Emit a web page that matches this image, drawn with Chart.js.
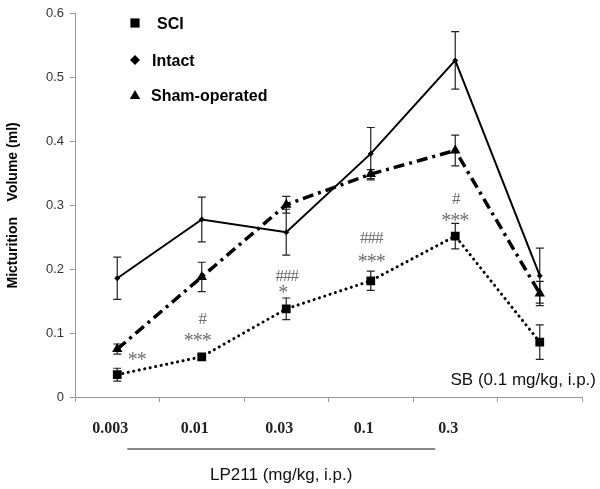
<!DOCTYPE html>
<html><head><meta charset="utf-8">
<script src="https://cdn.jsdelivr.net/npm/chart.js@4"></script>
<style>html,body{margin:0;padding:0;background:#fff}#wrap{width:600px;height:489px;position:relative}</style>
</head><body><div id="wrap"><canvas id="c"></canvas></div>
<script>
const categories = ["0.003","0.01","0.03","0.1","0.3","SB"];
const tickLabels = ["0.003","0.01","0.03","0.1","0.3",""];
const sciMean = [0.035,0.063,0.138,0.182,0.252,0.086];
const sciErr = [0.010,0.005,0.017,0.015,0.020,0.027];
const intactMean = [0.186,0.278,0.258,0.381,0.527,0.190];
const intactErr = [0.033,0.035,0.036,0.041,0.045,0.043];
const shamMean = [0.075,0.188,0.301,0.349,0.386,0.162];
const shamErr = [0.008,0.023,0.013,0.007,0.024,0.019];
const sigStars = ["**","***","*","***","***",""];
const sigHash = ["","#","###","###","#",""];
const seriesNames = ["SCI","Intact","Sham-operated"];
const yTicks = [0,0.1,0.2,0.3,0.4,0.5,0.6];
const doseGroupLabel = "LP211 (mg/kg, i.p.)";
const sbLabel = "SB (0.1 mg/kg, i.p.)";
const yTitle = "Micturition    Volume (ml)";

const SANS = "Arial, 'Liberation Sans', sans-serif";
const SERIF = "'Times New Roman', 'Liberation Serif', serif";

function centerText(ctx, text, cx, cy, align) {
  ctx.textAlign = align || 'center';
  ctx.textBaseline = 'alphabetic';
  const m = ctx.measureText(text);
  const base = cy + (m.actualBoundingBoxAscent - m.actualBoundingBoxDescent) / 2;
  ctx.fillText(text, cx, base);
}
function spacedText(ctx, text, cx, cy, step) {
  const n = text.length;
  for (let k = 0; k < n; k++) {
    centerText(ctx, text[k], cx + (k - (n - 1) / 2) * step, cy, 'center');
  }
}

const errorBars = {
  id: 'errorBars',
  beforeDatasetsDraw(chart) {
    const ctx = chart.ctx, ys = chart.scales.y;
    ctx.save();
    ctx.strokeStyle = '#222';
    ctx.lineWidth = 1.2;
    chart.data.datasets.forEach((ds, di) => {
      const meta = chart.getDatasetMeta(di);
      meta.data.forEach((pt, i) => {
        const e = ds.err[i], v = ds.data[i];
        const x = pt.x, y1 = ys.getPixelForValue(v + e), y2 = ys.getPixelForValue(v - e);
        ctx.beginPath();
        ctx.moveTo(x, y1); ctx.lineTo(x, y2);
        ctx.moveTo(x - 4, y1); ctx.lineTo(x + 4, y1);
        ctx.moveTo(x - 4, y2); ctx.lineTo(x + 4, y2);
        ctx.stroke();
      });
    });
    ctx.restore();
  }
};

const extras = {
  id: 'extras',
  afterDraw(chart) {
    const ctx = chart.ctx, xs = chart.scales.x, ys = chart.scales.y;
    ctx.save();
    // legend
    const legendY = [23, 60, 96];
    const legendTextX = [157, 152, 151];
    chart.data.datasets.forEach((ds, di) => {
      ctx.fillStyle = '#000';
      ctx.strokeStyle = '#000';
      Chart.helpers.drawPoint(ctx, {pointStyle: ds.pointStyle, radius: ds.legendRadius, rotation: 0, borderWidth: 0}, 135, legendY[di]);
      ctx.font = 'bold 16px ' + SANS;
      centerText(ctx, ds.label, legendTextX[di], legendY[di], 'left');
    });
    // significance marks (relative to SCI points)
    const sci = chart.getDatasetMeta(0).data;
    const starDy = [-19, -20, -20, -23, -19, 0];
    const starDx = [20, -4, -3, 1, 0, 0];
    const hashDy = [0, -38, -33, -43, -38, 0];
    ctx.fillStyle = '#6e6e6e';
    sci.forEach((pt, i) => {
      if (sigStars[i]) {
        ctx.font = '20px ' + SERIF;
        spacedText(ctx, sigStars[i], pt.x + starDx[i], pt.y + starDy[i], 9);
      }
      if (sigHash[i]) {
        ctx.font = '17px ' + SERIF;
        spacedText(ctx, sigHash[i], pt.x + 1, pt.y + hashDy[i], 7.5);
      }
    });
    // SB label
    ctx.fillStyle = '#111';
    ctx.font = '17px ' + SANS;
    centerText(ctx, sbLabel, 596, 380, 'right');
    // group line + label
    const x0 = xs.getPixelForValue(0) + 10, x1 = xs.getPixelForValue(4) - 20;
    ctx.strokeStyle = '#111';
    ctx.lineWidth = 1.2;
    ctx.beginPath(); ctx.moveTo(x0, 449); ctx.lineTo(x1, 449); ctx.stroke();
    centerText(ctx, doseGroupLabel, (x0 + x1) / 2, 475, 'center');
    ctx.restore();
  }
};

new Chart(document.getElementById('c'), {
  type: 'line',
  data: {
    labels: tickLabels,
    datasets: [
      {label: seriesNames[0], data: sciMean, err: sciErr, borderColor: '#000', backgroundColor: '#000',
       borderWidth: 3, borderDash: [0.1, 5.5], borderCapStyle: 'round', pointStyle: 'rect', pointRadius: 6.2,
       pointBorderWidth: 0, legendRadius: 6.5, tension: 0},
      {label: seriesNames[1], data: intactMean, err: intactErr, borderColor: '#000', backgroundColor: '#000',
       borderWidth: 2, pointStyle: 'rectRot', pointRadius: 3, pointBorderWidth: 0, legendRadius: 5, tension: 0},
      {label: seriesNames[2], data: shamMean, err: shamErr, borderColor: '#000', backgroundColor: '#000',
       borderWidth: 3.5, borderDash: [11, 5, 3, 5], pointStyle: 'triangle', pointRadius: 6,
       pointBorderWidth: 0, legendRadius: 6, tension: 0}
    ]
  },
  options: {
    animation: false,
    responsive: true,
    maintainAspectRatio: false,
    layout: {padding: {top: 11, right: 18, left: 0, bottom: 0}},
    plugins: {legend: {display: false}, tooltip: {enabled: false}},
    scales: {
      x: {
        type: 'category', offset: true,
        grid: {offset: true, drawOnChartArea: false, tickLength: 5, color: '#999'},
        border: {color: '#999'},
        ticks: {font: {family: SERIF, size: 16, weight: 'bold'}, color: '#222', padding: 17, labelOffset: -7, maxRotation: 0, autoSkip: false},
        afterFit: s => { s.height = 92; }
      },
      y: {
        min: 0, max: 0.6,
        afterBuildTicks: s => { s.ticks = yTicks.map(v => ({value: v})); },
        ticks: {font: {family: SANS, size: 13}, color: '#333', padding: 6, callback: v => String(v)},
        grid: {drawOnChartArea: false, tickLength: 5, color: '#999'},
        border: {color: '#999'},
        title: {display: true, text: yTitle, font: {family: SANS, size: 14, weight: 'bold'}, color: '#000', padding: {top: 5, bottom: 0}},
        afterFit: s => { s.width = 75; }
      }
    }
  },
  plugins: [errorBars, extras]
});
</script>
</body></html>
